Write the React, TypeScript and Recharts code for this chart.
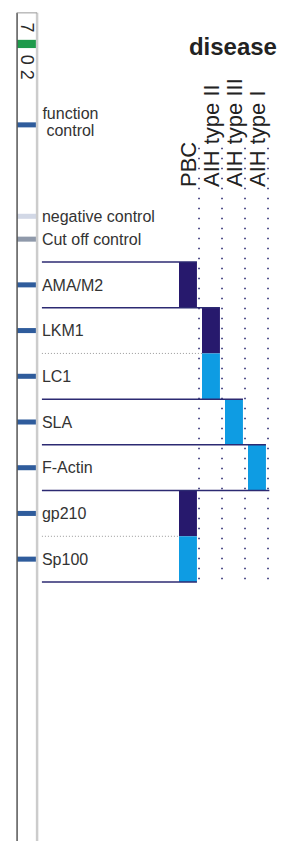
import { ScatterChart, Scatter, XAxis, YAxis, ReferenceArea, ReferenceLine } from "recharts";

// ── data ──
const diseases = ["PBC", "AIH type II", "AIH type III", "AIH type I"];
const antigens = ["AMA/M2", "LKM1", "LC1", "SLA", "F-Actin", "gp210", "Sp100"];
// disease column each antigen is typical for
const antigenDisease = [0, 1, 1, 2, 3, 0, 0];
const antigenTone = ["dark", "dark", "light", "light", "light", "dark", "light"];

const controls = ["function control", "negative control", "Cut off control"];
const controlRows = [-3.5, -1.5, -1];
const controlTone = ["band", "neg", "cut"];

const stripMarks = ["7", "0 2"];
const stripMarkRows = [-5.63, -4.76];
const greenBandRow = -5.27;

// ── layout (x: one unit = one disease column, y: one unit = one antigen row) ──
const W = 287;
const H = 841;
const X_DOMAIN: [number, number] = [-179 / 23, (W - 179) / 23];
const Y_DOMAIN: [number, number] = [-284.86 / 45.714, (H - 284.86) / 45.714];
const BAR_W = 0.78;
const GUIDE_OFF = 0.87;
const HEAD_OFF = 0.75;
const HEAD_ROW = -2.14;
const GUIDE_TOP = -3.0;
const STRIP_L = -7.04;
const STRIP_R = -6.17;
const STRIP_TOP = -5.95;
const LABEL_X = -5.96;
const BAND_H = 0.11;

const FONT = "'Liberation Sans', Arial, sans-serif";
const COLORS: Record<string, string> = {
  dark: "#27196d",
  light: "#0e9ce3",
  line: "#2c2a72",
  band: "#2f5c9c",
  neg: "#d2d8e6",
  cut: "#8f99aa",
  green: "#1f9a4b",
  text: "#333333",
};

const lastRow = antigens.length - 1;

// row separators: solid between groups, dotted inside a group
const separators = antigens.concat([""]).map((_, k) => {
  const prev = k > 0 ? antigenDisease[k - 1] : null;
  const next = k <= lastRow ? antigenDisease[k] : null;
  if (prev !== null && next !== null && prev === next) {
    return { y: k - 0.5, xEnd: next, dotted: true };
  }
  const col = Math.max(prev ?? -1, next ?? -1);
  return { y: k - 0.5, xEnd: col + BAR_W + (prev !== null && next !== null && prev > next ? 0.15 : 0), dotted: false };
});

const headerPoints = diseases.map((d, i) => ({ x: i + HEAD_OFF, y: HEAD_ROW, label: d }));
const antigenPoints = antigens.map((a, i) => ({ x: LABEL_X, y: i, label: a }));
const controlPoints = controls.map((c, i) => ({ x: LABEL_X, y: controlRows[i], label: c, wrap: i === 0 }));
const markPoints = stripMarks.map((m, i) => ({ x: (STRIP_L + STRIP_R) / 2, y: stripMarkRows[i], label: m }));
const titlePoints = [{ x: 4.26, y: -5.03, label: "disease" }];

const HeaderText = (p: any) => (
  <text
    x={p.cx}
    y={p.cy}
    transform={`rotate(-90 ${p.cx} ${p.cy})`}
    fontFamily={FONT}
    fontSize={22}
    fill="#222"
  >
    {p.payload.label}
  </text>
);

const RowText = (p: any) => {
  if (p.payload.wrap) {
    const [a, b] = p.payload.label.split(" ");
    return (
      <text fontFamily={FONT} fontSize={16} fill={COLORS.text} textAnchor="middle">
        <tspan x={p.cx + 28.5} y={p.cy - 5.5}>{a}</tspan>
        <tspan x={p.cx + 28.5} y={p.cy + 11.5}>{b}</tspan>
      </text>
    );
  }
  return (
    <text x={p.cx} y={p.cy + 5.7} fontFamily={FONT} fontSize={16} fill={COLORS.text}>
      {p.payload.label}
    </text>
  );
};

const MarkText = (p: any) => (
  <text
    x={p.cx}
    y={p.cy}
    transform={`rotate(90 ${p.cx} ${p.cy})`}
    textAnchor="middle"
    dominantBaseline="central"
    fontFamily={FONT}
    fontSize={18}
    fill="#2a2a2a"
  >
    {p.payload.label}
  </text>
);

const TitleText = (p: any) => (
  <text x={p.cx} y={p.cy} textAnchor="end" fontFamily={FONT} fontSize={24} fontWeight="bold" fill="#222">
    {p.payload.label}
  </text>
);

export default function App() {
  return (
    <div style={{ position: "absolute", left: 0, top: 0, background: "#fff" }}>
      <ScatterChart width={W} height={H} margin={{ top: 0, right: 0, bottom: 0, left: 0 }}>
        <XAxis type="number" dataKey="x" domain={X_DOMAIN} allowDataOverflow hide />
        <YAxis type="number" dataKey="y" domain={Y_DOMAIN} allowDataOverflow reversed hide />

        {/* ── test strip ── */}
        <ReferenceLine
          segment={[{ x: STRIP_L, y: STRIP_TOP }, { x: STRIP_L, y: Y_DOMAIN[1] }]}
          stroke="#555555"
          strokeWidth={1.5}
        />
        <ReferenceLine
          segment={[{ x: STRIP_R, y: STRIP_TOP }, { x: STRIP_R, y: Y_DOMAIN[1] }]}
          stroke="#cccccc"
          strokeWidth={2.5}
        />
        <ReferenceLine
          segment={[{ x: STRIP_L, y: STRIP_TOP }, { x: STRIP_R, y: STRIP_TOP }]}
          stroke="#9a9a9a"
          strokeWidth={1}
        />
        <ReferenceArea
          x1={STRIP_L}
          x2={STRIP_R}
          y1={greenBandRow - 0.09}
          y2={greenBandRow + 0.09}
          fill={COLORS.green}
          fillOpacity={1}
          stroke="none"
        />
        {controlRows.map((r, i) => (
          <ReferenceArea
            key={`c${i}`}
            x1={STRIP_L}
            x2={STRIP_R}
            y1={r - BAND_H / 2}
            y2={r + BAND_H / 2}
            fill={COLORS[controlTone[i]]}
            fillOpacity={1}
            stroke="none"
          />
        ))}
        {antigens.map((_, i) => (
          <ReferenceArea
            key={`b${i}`}
            x1={STRIP_L}
            x2={STRIP_R}
            y1={i - BAND_H / 2}
            y2={i + BAND_H / 2}
            fill={COLORS.band}
            fillOpacity={1}
            stroke="none"
          />
        ))}

        {/* ── dotted disease guides ── */}
        {diseases.map((_, c) => (
          <ReferenceLine
            key={`g${c}`}
            segment={[{ x: c + GUIDE_OFF, y: GUIDE_TOP }, { x: c + GUIDE_OFF, y: lastRow + 0.5 }]}
            stroke={COLORS.line}
            strokeWidth={1.6}
            strokeDasharray="1.6 8.4"
          />
        ))}

        {/* ── reactivity cells ── */}
        {antigens.map((_, i) => (
          <ReferenceArea
            key={`r${i}`}
            x1={antigenDisease[i]}
            x2={antigenDisease[i] + BAR_W}
            y1={i - 0.5}
            y2={i + 0.5}
            fill={COLORS[antigenTone[i]]}
            fillOpacity={1}
            stroke="none"
          />
        ))}

        {/* ── row separators ── */}
        {separators.map((s, k) => (
          <ReferenceLine
            key={`s${k}`}
            segment={[{ x: LABEL_X, y: s.y }, { x: s.xEnd, y: s.y }]}
            stroke={s.dotted ? "#9a9a9a" : COLORS.line}
            strokeWidth={s.dotted ? 1 : 1.5}
            strokeDasharray={s.dotted ? "1 2" : undefined}
          />
        ))}

        <Scatter data={markPoints} shape={MarkText} isAnimationActive={false} />
        <Scatter data={controlPoints} shape={RowText} isAnimationActive={false} />
        <Scatter data={antigenPoints} shape={RowText} isAnimationActive={false} />
        <Scatter data={headerPoints} shape={HeaderText} isAnimationActive={false} />
        <Scatter data={titlePoints} shape={TitleText} isAnimationActive={false} />
      </ScatterChart>
    </div>
  );
}
